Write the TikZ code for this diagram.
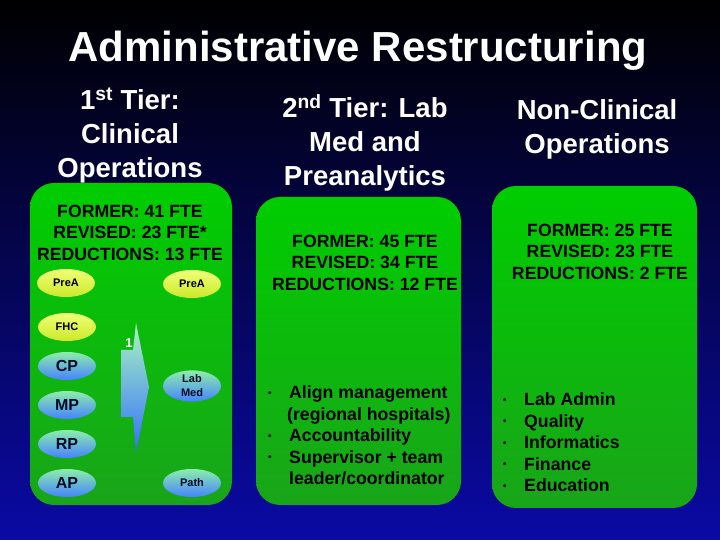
\documentclass[tikz,border=0pt]{standalone}
\usepackage{fontspec}
\setmainfont{Liberation Sans}
\usetikzlibrary{shapes.geometric}
\definecolor{bgtop}{RGB}{0,0,0}
\definecolor{bgmid}{RGB}{8,8,105}
\definecolor{bgbot}{RGB}{10,10,165}
\definecolor{gtop}{RGB}{0,205,0}
\definecolor{gbot}{RGB}{25,165,25}
\definecolor{ytop}{RGB}{240,255,120}
\definecolor{ybot}{RGB}{205,232,40}
\definecolor{btop}{RGB}{140,238,170}
\definecolor{bbot}{RGB}{70,130,255}
\definecolor{atop}{RGB}{170,245,190}
\definecolor{abot}{RGB}{50,110,255}
\definecolor{navy}{RGB}{0,10,40}
\begin{document}
\begin{tikzpicture}[x=1pt,y=1pt,
  panel/.style={rounded corners=24pt, top color=gtop, bottom color=gbot, draw=none},
  hdr/.style={text=white, font=\fontsize{27.5}{34}\selectfont\bfseries, anchor=base, inner sep=0pt},
  stat/.style={text=black, font=\fontsize{17.7}{21.5}\selectfont\bfseries, anchor=base, inner sep=0pt},
  blist/.style={text=black, font=\fontsize{17.7}{21.5}\selectfont\bfseries, anchor=base west, inner sep=0pt},
  yell/.style={ellipse, minimum width=58pt, minimum height=28pt, inner sep=0pt, top color=ytop, bottom color=ybot, text=black, font=\fontsize{11}{12}\selectfont\bfseries},
  blue/.style={ellipse, minimum width=58pt, minimum height=28pt, inner sep=0pt, top color=btop, bottom color=bbot, text=navy},
  big/.style={font=\fontsize{16}{18}\selectfont\bfseries},
  small/.style={font=\fontsize{11}{12}\selectfont\bfseries}
]
\useasboundingbox (0,0) rectangle (720,540);
\shade[top color=bgtop, middle color=bgmid, bottom color=bgbot] (0,0) rectangle (720,540);

% title
\node[text=white, font=\fontsize{42}{46}\selectfont\bfseries, anchor=base, inner sep=0pt] (title) at (358,478) {Administrative Restructuring};

% headers
\node[hdr] (h1) at (130,430) {\begin{tabular}[t]{@{}c@{}}1\textsuperscript{st} Tier:\\Clinical\\Operations\end{tabular}};
\node[hdr] (h2) at (365,422) {\begin{tabular}[t]{@{}c@{}}2\textsuperscript{nd} Tier: Lab\\Med and\\Preanalytics\end{tabular}};
\node[hdr] (h3) at (597,420) {\begin{tabular}[t]{@{}c@{}}Non-Clinical\\Operations\end{tabular}};

% panels
\fill[panel] (30,35) rectangle (232,357);
\fill[panel] (256,35) rectangle (461,343);
\fill[panel] (492,32) rectangle (697,354);

% stats
\node[stat] (s1) at (130,322.5) {\begin{tabular}[t]{@{}c@{}}FORMER: 41 FTE\\REVISED: 23 FTE*\\REDUCTIONS: 13 FTE\end{tabular}};
\node[stat] (s2) at (365,292.5) {\begin{tabular}[t]{@{}c@{}}FORMER: 45 FTE\\REVISED: 34 FTE\\REDUCTIONS: 12 FTE\end{tabular}};
\node[stat] (s3) at (600,303.5) {\begin{tabular}[t]{@{}c@{}}FORMER: 25 FTE\\REVISED: 23 FTE\\REDUCTIONS: 2 FTE\end{tabular}};

% bullet lists
\newcommand{\bul}{\makebox[21pt][l]{\fontsize{10}{10}\selectfont\raisebox{2.5pt}{•}}}
\node[blist] (b2) at (268,141) {\begin{tabular}[t]{@{}l@{}l@{}}
\bul & Align management\\
 & \hspace{-2pt}(regional hospitals)\\
\bul & Accountability\\
\bul & Supervisor + team\\
 & leader/coordinator
\end{tabular}};
\node[blist] (b3) at (503,134) {\begin{tabular}[t]{@{}l@{}l@{}}
\bul & Lab Admin\\
\bul & Quality\\
\bul & Informatics\\
\bul & Finance\\
\bul & Education
\end{tabular}};

% arrow
\shade[top color=atop, bottom color=abot] (121,190) -- (133,190) -- (136,217) -- (149,153) -- (136,87) -- (133,123) -- (121,123) -- cycle;
\node[text=white, font=\fontsize{13}{14}\selectfont\bfseries, inner sep=0pt] (one) at (129,197) {1};

% ellipses
\node[yell] (prea1) at (66,257) {PreA};
\node[yell] (prea2) at (192,256) {PreA};
\node[yell] (fhc) at (67,213) {FHC};
\node[blue, big] (cp) at (67,174) {CP};
\node[blue, big] (mp) at (67,135) {MP};
\node[blue, big] (rp) at (67,96) {RP};
\node[blue, big] (ap) at (67,57) {AP};
\node[blue, small, align=center, minimum height=31pt] (labmed) at (192,154) {Lab\\[2pt]Med};
\node[blue, small] (path) at (192,57) {Path};
\end{tikzpicture}
\end{document}
